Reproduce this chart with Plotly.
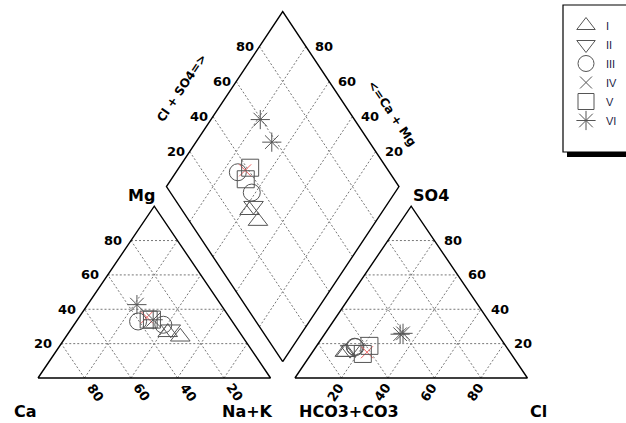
import plotly.graph_objects as go

# ---------------- data (meq %) ----------------
sample_group = ["I", "I", "II", "III", "III", "IV", "V", "V", "VI", "VI"]
ca_pct   = [30.9, 26.8, 28.7, 40.5, 30.6, 35.5, 35.4, 34.0, 36.1, 33.5]
mg_pct   = [26.6, 24.0, 28.4, 32.9, 31.0, 35.3, 34.0, 34.0, 42.7, 33.9]
nak_pct  = [42.5, 49.2, 42.9, 26.6, 38.4, 29.2, 30.6, 32.0, 21.2, 32.6]
hco3_pct = [71.0, 70.5, 68.0, 65.2, 65.0, 61.5, 58.6, 63.8, 40.5, 42.0]
so4_pct  = [15.1, 15.0, 16.5, 18.2, 18.0, 15.0, 18.7, 14.0, 26.0, 25.5]
cl_pct   = [13.9, 14.5, 15.5, 16.6, 17.0, 23.5, 22.7, 22.2, 33.5, 32.5]

group_names = ["I", "II", "III", "IV", "V", "VI"]
group_symbols = ["triangle-up-open", "triangle-down-open", "circle-open",
                 "x-thin-open", "square-open", "asterisk-open"]
tick_values = [20, 40, 60, 80]

# ---------------- geometry (plot units) ----------------
PXX, PXY, X0, Y0 = 2.325, 1.718, 38.0, 378.0   # px per unit, origin px
GAP = 10.5
AX = 100 + GAP                                   # anion triangle x offset
DB = (100 + GAP / 2, 9.5)                        # diamond bottom
DH = 101.9                                       # diamond half height
DL = (DB[0] - 50, DB[1] + DH)
DR = (DB[0] + 50, DB[1] + DH)
DT = (DB[0], DB[1] + 2 * DH)


def px2d(px, py):
    return (px - X0) / PXX, (Y0 - py) / PXY


def cat_xy(ca, mg, na):
    t = ca + mg + na
    return 100 * (na + mg / 2) / t, 100 * mg / t


def an_xy(hc, so, cl):
    t = hc + so + cl
    return AX + 100 * (cl + so / 2) / t, 100 * so / t


def dia_xy(c, s):
    return (DB[0] + c / 100 * (DL[0] - DB[0]) + s / 100 * (DR[0] - DB[0]),
            DB[1] + c / 100 * (DL[1] - DB[1]) + s / 100 * (DR[1] - DB[1]))


fig = go.Figure()

# grid lines
gx, gy = [], []
for v in tick_values:
    segs = [
        (cat_xy(100 - v, v, 0), cat_xy(0, v, 100 - v)),
        (cat_xy(100 - v, 0, v), cat_xy(0, 100 - v, v)),
        (cat_xy(v, 0, 100 - v), cat_xy(v, 100 - v, 0)),
        (an_xy(100 - v, v, 0), an_xy(0, v, 100 - v)),
        (an_xy(100 - v, 0, v), an_xy(0, 100 - v, v)),
        (an_xy(v, 0, 100 - v), an_xy(v, 100 - v, 0)),
        (dia_xy(v, 0), dia_xy(v, 100)),
        (dia_xy(0, v), dia_xy(100, v)),
    ]
    for a, b in segs:
        gx += [a[0], b[0], None]
        gy += [a[1], b[1], None]
fig.add_trace(go.Scatter(x=gx, y=gy, mode="lines", hoverinfo="skip",
                         line=dict(color="#777777", width=1, dash="2px,2px"),
                         showlegend=False))

# outlines
ox, oy = [], []
for poly in [[cat_xy(100, 0, 0), cat_xy(0, 0, 100), cat_xy(0, 100, 0)],
             [an_xy(100, 0, 0), an_xy(0, 0, 100), an_xy(0, 100, 0)],
             [DB, DR, DT, DL]]:
    for p in poly + [poly[0]]:
        ox.append(p[0]); oy.append(p[1])
    ox.append(None); oy.append(None)
fig.add_trace(go.Scatter(x=ox, y=oy, mode="lines", hoverinfo="skip",
                         line=dict(color="black", width=1.4), showlegend=False))

# samples
for rank, (g, sym) in enumerate(zip(group_names, group_symbols)):
    idx = [i for i, s in enumerate(sample_group) if s == g]
    xs, ys = [], []
    for i in idx:
        p = cat_xy(ca_pct[i], mg_pct[i], nak_pct[i])
        q = an_xy(hco3_pct[i], so4_pct[i], cl_pct[i])
        c = 100 * (ca_pct[i] + mg_pct[i]) / (ca_pct[i] + mg_pct[i] + nak_pct[i])
        s = 100 * (so4_pct[i] + cl_pct[i]) / (hco3_pct[i] + so4_pct[i] + cl_pct[i])
        d = dia_xy(c, s)
        for pt in (p, q, d):
            xs.append(pt[0]); ys.append(pt[1])
    col = "#f06060" if g == "IV" else "#555555"
    size = {"x-thin-open": 12, "asterisk-open": 16}.get(sym, 17)
    fig.add_trace(go.Scatter(x=xs, y=ys, mode="markers", name=g,
                             legendrank=rank + 1, showlegend=(g != "IV"),
                             marker=dict(symbol=sym, size=size, color=col,
                                         line=dict(color=col, width=1))))
    if g == "IV":
        fig.add_trace(go.Scatter(x=[None], y=[None], mode="markers", name=g,
                                 legendrank=rank + 1,
                                 marker=dict(symbol=sym, size=size, color="#555555",
                                             line=dict(color="#555555", width=1))))

# ---------------- text ----------------
BF = dict(family="DejaVu Sans", size=16, color="black", weight="bold")
TF = dict(family="DejaVu Sans", size=13, color="black", weight="bold")
SF = dict(family="DejaVu Sans", size=12, color="black", weight="bold")
ann = []


def add(x, y, text, font, **kw):
    d = dict(x=x, y=y, text=text, showarrow=False, font=font,
             xref="x", yref="y")
    d.update(kw)
    ann.append(d)


for v in tick_values:
    # cation
    bx, by = cat_xy(v, 0, 100 - v)
    add(bx, by, str(v), TF, xshift=11, yshift=-14, textangle=56)
    lx, ly = cat_xy(100 - v, v, 0)
    add(lx, ly, str(v), TF, xanchor="right", xshift=-7)
    # anion
    bx, by = an_xy(100 - v, 0, v)
    add(bx, by, str(v), TF, xshift=-6, yshift=-14, textangle=-56)
    rx, ry = an_xy(0, v, 100 - v)
    add(rx, ry, str(v), TF, xanchor="left", xshift=8)
    # diamond
    px_, py_ = dia_xy(100, v)
    add(px_, py_, str(v), TF, xanchor="right", xshift=-3)
    px_, py_ = dia_xy(v, 100)
    add(px_, py_, str(v), TF, xanchor="left", xshift=7)

for (px, py), t in [((141.7, 195), "Mg"), ((431, 195), "SO4"),
                    ((25, 411.7), "Ca"), ((247.5, 411.7), "Na+K"),
                    ((348.5, 411.7), "HCO3+CO3"), ((538, 411.7), "Cl")]:
    x, y = px2d(px, py)
    add(x, y, t, BF)
x, y = px2d(181.5, 87.5)
add(x, y, "Cl + SO4=&gt;", SF, textangle=-56)
x, y = px2d(391.5, 113.3)
add(x, y, "&lt;=Ca + Mg", SF, textangle=56)

W, H = 626, 423
shapes = [
    dict(type="rect", xref="paper", yref="paper", layer="below",
         x0=567 / W, x1=1.1, y0=1 - 157 / H, y1=1 - 9 / H,
         fillcolor="black", line=dict(width=0)),
    dict(type="rect", xref="paper", yref="paper", layer="below",
         x0=563 / W, x1=1.1, y0=1 - 152 / H, y1=1 - 5 / H,
         fillcolor="white", line=dict(color="black", width=1.2)),
]

fig.update_layout(
    width=W, height=H,
    margin=dict(l=0, r=0, t=0, b=0, autoexpand=False),
    paper_bgcolor="white", plot_bgcolor="white",
    xaxis=dict(range=[(0 - X0) / PXX, (W - X0) / PXX], visible=False,
               fixedrange=True),
    yaxis=dict(range=[(Y0 - H) / PXY, Y0 / PXY], visible=False,
               fixedrange=True),
    showlegend=True,
    legend=dict(x=566 / W, y=1 - 11 / H, xanchor="left", yanchor="top",
                bgcolor="rgba(0,0,0,0)", borderwidth=0,
                font=dict(family="Liberation Sans", size=11, color="#222244"),
                itemclick=False, itemdoubleclick=False),
    annotations=ann, shapes=shapes,
)

fig.write_html("out.html", config={"displayModeBar": False},
               post_script="document.body.style.margin='0px';"
                           "document.body.style.overflow='hidden';")
